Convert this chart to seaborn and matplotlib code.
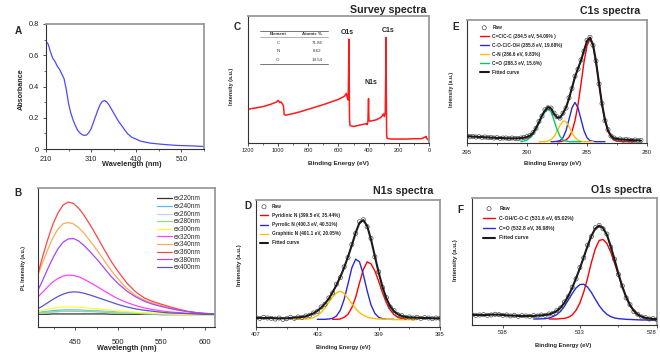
import numpy as np
import pandas as pd
import matplotlib
matplotlib.use("Agg")
import matplotlib.pyplot as plt
import seaborn as sns
from matplotlib.ticker import MultipleLocator, FixedLocator, NullLocator, FixedFormatter

# ---------------- data ----------------
# A: UV-vis absorbance
uv_wavelength = [210, 215, 220, 225, 230, 235, 240, 245, 250, 255, 260, 265, 270, 275, 280, 285, 290, 295, 300,
                 305, 310, 315, 320, 325, 330, 335, 340, 345, 350, 355, 360, 370, 380, 390, 400, 420, 440, 460,
                 480, 500, 520, 540, 560]
uv_absorbance = [0.69, 0.67, 0.62, 0.58, 0.56, 0.53, 0.51, 0.48, 0.45, 0.38, 0.29, 0.23, 0.185, 0.15, 0.12, 0.103,
                 0.092, 0.087, 0.09, 0.105, 0.13, 0.17, 0.21, 0.25, 0.285, 0.305, 0.31, 0.30, 0.28, 0.255, 0.23,
                 0.18, 0.14, 0.10, 0.075, 0.05, 0.038, 0.032, 0.027, 0.023, 0.021, 0.019, 0.016]
uv_yticks = [0, 0.2, 0.4, 0.6, 0.8]
uv_yticklabels = ["0", "0.2", "0.4", "0.6", "0.8"]

# B: PL spectra
pl_wavelength = [407, 412, 418, 424, 430, 436, 442, 448, 454, 460, 468, 476, 484, 492, 500, 510, 520, 530, 540,
                 550, 560, 570, 580, 590, 600, 612]
pl_names = ["ex220nm", "ex240nm", "ex260nm", "ex280nm", "ex300nm", "ex320nm", "ex340nm", "ex360nm", "ex380nm",
            "ex400nm"]
pl_ex220 = [1, 1, 1, 2, 2, 2, 2, 2, 2, 2, 2, 2, 2, 1, 1, 1, 1, 1, 1, 0, 0, 0, 0, 0, 0, 0]
pl_ex240 = [6, 8, 10, 12, 13, 14, 14, 14, 14, 13, 12, 11, 10, 9, 8, 6, 5, 4, 3, 2, 2, 1, 1, 0, 0, 0]
pl_ex260 = [4, 5, 7, 8, 9, 10, 11, 11, 11, 10, 10, 9, 8, 7, 6, 5, 4, 3, 2, 2, 1, 1, 1, 0, 0, 0]
pl_ex280 = [5, 6, 7, 8, 9, 10, 10, 10, 10, 9, 9, 8, 7, 6, 5, 4, 4, 3, 3, 2, 2, 1, 1, 0, 0, 0]
pl_ex300 = [10, 13, 16, 19, 21, 23, 23, 23, 22, 21, 19, 17, 15, 13, 11, 9, 7, 5, 4, 3, 2, 1, 0, -1, -1, -1]
pl_ex320 = [53, 66, 82, 97, 108, 115, 118, 117, 113, 106, 95, 83, 70, 58, 47, 36, 27, 20, 15, 11, 8, 6, 4, 3, 2, 1]
pl_ex340 = [118, 153, 192, 228, 255, 271, 275, 271, 260, 244, 218, 190, 160, 131, 106, 78, 57, 43, 34, 27, 20, 14,
            9, 5, 3, 2]
pl_ex360 = [123, 170, 222, 268, 303, 327, 336, 332, 318, 298, 265, 230, 193, 158, 128, 94, 68, 50, 39, 31, 23, 16,
            10, 6, 3, 2]
pl_ex380 = [73, 100, 135, 168, 196, 216, 226, 227, 220, 207, 186, 163, 138, 113, 92, 70, 53, 40, 31, 24, 18, 13, 9,
            6, 4, 2]
pl_ex400 = [18, 25, 35, 45, 54, 61, 66, 68, 67, 64, 58, 51, 44, 37, 30, 23, 17, 13, 10, 7, 5, 4, 3, 2, 1, 1]
pl_colors = ["#333333", "#55bbff", "#ccccff", "#88dd88", "#ffff33", "#ff44ff", "#ffaa55", "#ff4444", "#aa44ff",
             "#5555cc"]

# C: survey spectrum
survey_be = [1200, 1150, 1100, 1050, 1010, 1000, 990, 980, 975, 970, 965, 960, 950, 900, 850, 800, 750, 700, 650,
             600, 570, 560, 548, 542, 536, 533, 531, 529, 527, 524, 520, 500, 460, 420, 412, 410, 405, 401, 398,
             390, 350, 320, 310, 302, 296, 290, 287, 285, 283, 281, 278, 250, 200, 150, 100, 50, 25, 20, 15, 5, 0]
survey_int = [100, 104, 108, 115, 122, 127, 120, 122, 118, 115, 110, 84, 82, 87, 93, 100, 107, 114, 122, 130, 137,
              140, 148, 135, 128, 210, 312, 190, 70, 52, 50, 48, 52, 56, 56, 54, 62, 132, 66, 64, 68, 75, 80, 86,
              78, 90, 200, 317, 150, 25, 12, 10, 10, 10, 11, 11, 16, 18, 12, 8, 2]
table_elements = ["C", "N", "O"]
table_atomic = ["71.86", "8.62", "19.54"]

# E: C1s
e_be = np.arange(295.0, 280.4, -0.25)
e_fit = [20, 20, 19, 19, 18, 18, 17, 17, 16, 16, 15, 15, 15, 14, 14, 14, 14, 14, 15, 16, 18, 22, 30, 45, 63, 83, 98,
         108, 104, 88, 77, 76, 89, 107, 134, 166, 199, 224, 248, 278, 307, 317, 296, 245, 180, 117, 69, 38, 22, 14,
         12, 11, 10, 10, 9, 9, 8, 8, 7]
e_raw = [21, 19, 20, 18, 19, 17, 18, 16, 17, 15, 16, 14, 15, 15, 13, 15, 14, 13, 15, 17, 19, 23, 31, 44, 65, 81,
         100, 106, 105, 90, 79, 75, 90, 105, 136, 164, 201, 222, 250, 276, 309, 318, 294, 247, 178, 119, 67, 40, 21,
         15, 11, 12, 9, 11, 9, 8, 9, 7, 8]
e_red_be = np.arange(287.5, 280.9, -0.25)
e_red = [4, 4, 6, 9, 18, 35, 67, 115, 178, 243, 293, 312, 293, 243, 178, 115, 67, 35, 18, 9, 6, 5, 4, 4, 4, 4, 4]
e_blue_be = np.arange(288.0, 283.4, -0.25)
e_blue = [4, 4, 5, 7, 16, 37, 71, 106, 122, 106, 71, 37, 16, 7, 5, 4, 4, 4, 4]
e_yellow_be = np.arange(289.0, 284.4, -0.25)
e_yellow = [4, 4, 4, 6, 10, 19, 35, 53, 66, 64, 50, 31, 16, 8.5, 5, 4, 4, 4, 4]
e_green_be = np.arange(290.5, 285.4, -0.25)
e_green = [4, 6, 9, 16, 26, 41, 59, 79, 94, 102, 94, 69, 41, 20, 9, 6, 4, 4, 4, 4, 4]
e_labels = ["Raw", "C=C/C-C (284.5 eV, 54.09% )", "C-O-C/C-OH (285.8 eV, 19.68%)", "C-N (286.6 eV, 9.83%)",
            "C=O (288.3 eV, 15.6%)", "Fitted curve"]

# D: N1s
d_be = np.arange(407.0, 394.9, -0.25)
d_fit = [7, 7, 7, 7, 7, 6, 6, 6, 6, 7, 8, 9, 10, 12, 16, 21, 28, 38, 50, 65, 84, 106, 130, 158, 190, 225, 262, 292,
         300, 282, 242, 192, 143, 100, 66, 42, 27, 18, 13, 10, 9, 8, 8, 7, 7, 7, 6, 6, 6]
d_raw = [8, 6, 9, 7, 6, 4, 7, 3, 5, 9, 6, 10, 9, 13, 15, 22, 27, 40, 48, 67, 82, 108, 128, 160, 188, 227, 260, 295,
         301, 280, 245, 190, 145, 98, 68, 40, 29, 17, 14, 9, 10, 7, 9, 6, 8, 7, 5, 7, 6]
d_red_be = np.arange(402.0, 396.4, -0.25)
d_red = [3, 3, 4, 9, 18, 38, 69, 112, 152, 175, 169, 148, 117, 83, 53, 31, 17, 9, 5, 4, 3, 3, 3]
d_blue_be = np.arange(403.0, 397.9, -0.25)
d_blue = [3, 3, 3, 4, 6, 13, 30, 63, 109, 157, 183, 175, 137, 88, 46, 21, 9, 5, 3, 3, 3]
d_yellow_be = np.arange(404.5, 396.4, -0.25)
d_yellow = [3, 3, 3, 4, 5, 8, 14, 24, 37, 54, 70, 82, 87, 80, 66, 50, 35, 23, 15, 10, 7, 5, 4, 4, 3, 3, 2, 2, 2, 2,
            2, 2, 2]
d_labels = ["Raw", "Pyridinic N (399.5 eV, 35.44%)", "Pyrrolic N (400.3 eV, 40.51%)",
            "Graphitic N (401.1 eV, 20.05%)", "Fitted curve"]

# F: O1s
f_be = np.arange(540.0, 527.9, -0.25)
f_fit = [15, 15, 15, 15, 15, 16, 16, 16, 15, 14, 13, 13, 12, 12, 12, 12, 12, 13, 14, 15, 17, 21, 27, 37, 52, 72, 96,
         125, 155, 188, 222, 252, 274, 282, 275, 255, 220, 180, 138, 100, 68, 44, 27, 16, 10, 6, 4, 3, 2]
f_raw = [16, 14, 15, 16, 14, 15, 17, 16, 14, 15, 12, 14, 11, 13, 12, 11, 13, 12, 15, 14, 18, 20, 28, 36, 54, 70, 98,
         123, 157, 186, 224, 250, 276, 283, 273, 257, 218, 182, 136, 102, 66, 46, 25, 17, 9, 7, 3, 4, 1]
f_red_be = np.arange(535.0, 527.9, -0.25)
f_red = [3, 3, 3, 4, 5, 8, 15, 29, 51, 84, 126, 173, 213, 238, 241, 229, 203, 170, 134, 99, 70, 46, 29, 18, 11, 7,
         5, 4, 3]
f_blue_be = np.arange(536.0, 527.9, -0.25)
f_blue = [3, 3, 3.5, 4, 6, 10, 16, 26, 41, 60, 79, 96, 106, 107, 98, 82, 62, 43, 28, 17, 10, 6, 4, 3, 2, 1.5, 1,
          0.5, 0, 0, -1, -1, -1]
f_labels = ["Raw", "C-OH/C-O-C (531.6 eV, 65.02%)", "C=O (532.8 eV, 36.98%)", "Fitted curve"]

# ---------------- figure ----------------
sns.set_style("ticks")
plt.rcParams['font.family'] = ['Liberation Sans', 'DejaVu Sans']
W, H = 660, 352
fig = plt.figure(figsize=(W / 100, H / 100), dpi=100)


def axes_px(l, t, r, b):
    return fig.add_axes([l / W, 1 - b / H, (r - l) / W, (b - t) / H])


def ftext(x, y, s, size, weight='normal', rotation=0, ha='center', va='center', **kw):
    fig.text(x / W, 1 - y / H, s, size=size, weight=weight, rotation=rotation, ha=ha, va=va, **kw)


def style(ax, fs, pad, length=2.5):
    for s in ['left', 'bottom']:
        ax.spines[s].set_color('#333333')
        ax.spines[s].set_linewidth(0.8)
    for s in ['top', 'right']:
        ax.spines[s].set_color('#9a9a9a')
        ax.spines[s].set_linewidth(1.3)
    ax.tick_params(which='major', length=length, width=0.6, labelsize=fs, pad=pad, color='#333333',
                   labelcolor='#222222')
    ax.tick_params(which='minor', length=length * 0.6, width=0.5, color='#333333')
    ax.set_xlabel('')
    ax.set_ylabel('')


def no_y(ax):
    ax.yaxis.set_major_locator(NullLocator())
    ax.yaxis.set_minor_locator(NullLocator())


# ---- A ----
axA = axes_px(46, 24, 204, 149)
sns.lineplot(x=uv_wavelength, y=uv_absorbance, ax=axA, color='#4a4aff', linewidth=0.9, errorbar=None)
axA.set_xlim(210, 560)
axA.set_ylim(0, 0.8)
axA.xaxis.set_major_locator(FixedLocator([210, 310, 410, 510]))
axA.xaxis.set_minor_locator(FixedLocator([260, 360, 460, 560]))
axA.yaxis.set_major_locator(FixedLocator(uv_yticks))
axA.yaxis.set_major_formatter(FixedFormatter(uv_yticklabels))
axA.yaxis.set_minor_locator(FixedLocator([0.1, 0.3, 0.5, 0.7]))
style(axA, 5.3, 2.5)
ftext(21, 89, "Absorbance", 5.2, 'bold', rotation=90)
ftext(132, 165, "Wavelength (nm)", 5.3, 'bold')
ftext(18, 31, "A", 7.2, 'bold')

# ---- B ----
axB = axes_px(38, 188, 215, 327)
pl_df = pd.concat([pd.DataFrame({"wl": pl_wavelength, "val": vals, "ex": name})
                   for name, vals in zip(pl_names, [pl_ex220, pl_ex240, pl_ex260, pl_ex280, pl_ex300, pl_ex320,
                                                     pl_ex340, pl_ex360, pl_ex380, pl_ex400])])
sns.lineplot(data=pl_df, x="wl", y="val", hue="ex", hue_order=pl_names, palette=pl_colors, ax=axB,
             linewidth=0.9, errorbar=None)
axB.set_xlim(407, 612)
axB.set_ylim(-37, 378)
axB.xaxis.set_major_locator(FixedLocator([450, 500, 550, 600]))
axB.xaxis.set_minor_locator(FixedLocator([425, 475, 525, 575]))
no_y(axB)
style(axB, 5.5, 6)
hB, lB = axB.get_legend_handles_labels()
axB.legend(hB, lB, loc='upper left', bbox_to_anchor=(157 / W, 1 - 195.5 / H), bbox_transform=fig.transFigure,
           frameon=False, prop={'size': 4.7}, handlelength=2.3, handletextpad=0.2, labelspacing=0.1,
           borderpad=0, borderaxespad=0)
ftext(24, 268, "PL Intensity (a.u.)", 3.8, 'bold', rotation=90)
ftext(127, 348, "Wavelength (nm)", 5.3, 'bold')
ftext(18, 193, "B", 7.2, 'bold')

# ---- C ----
axC = axes_px(248, 16, 429, 143)
sns.lineplot(x=survey_be, y=survey_int, ax=axC, color='#ff1a1a', linewidth=1.1, errorbar=None)
axC.set_xlim(1200, 0)
axC.set_ylim(-2, 382)
axC.xaxis.set_major_locator(MultipleLocator(200))
axC.xaxis.set_minor_locator(MultipleLocator(100))
no_y(axC)
style(axC, 4.1, 1.5, 2)
ftext(232, 86, "Intensity (a.u.)", 4.0, 'bold', rotation=90)
ftext(339, 163, "Binding Energy (eV)", 4.6, 'bold')
ftext(237, 27, "C", 7.2, 'bold')
ftext(388, 10, "Survey spectra", 7.7, 'bold')
ftext(347, 32, "O1s", 5.0, 'bold')
ftext(371, 82, "N1s", 5.0, 'bold')
ftext(388, 31, "C1s", 5.0, 'bold')
# composition table
for yy, lw in [(30.7, 0.7), (37.3, 0.4), (64, 0.7)]:
    fig.add_artist(plt.Line2D([260 / W, 328 / W], [1 - yy / H, 1 - yy / H], color='#777777', linewidth=lw))
ftext(278, 34, "Element", 3.2, 'bold', color='#333333')
ftext(312, 34, "Atomic %", 3.2, 'bold', color='#333333')
for i, (el, at) in enumerate(zip(table_elements, table_atomic)):
    ftext(278, 42.7 + 8.6 * i, el, 3.2, color='#333333')
    ftext(317, 42.7 + 8.6 * i, at, 3.2, color='#333333')


# ---- XPS helper ----
def xps(ax, be, raw, fit, comps, labels, legend_xy, fs_leg, ls, hl):
    for cbe, cval, col in comps:
        sns.lineplot(x=cbe, y=cval, ax=ax, color=col, linewidth=1.0, errorbar=None, label='_c' + col)
    sns.scatterplot(x=be, y=raw, ax=ax, marker='o', s=9, facecolor='none', edgecolor='#505050', linewidth=0.5,
                    zorder=3, label='_raw')
    pts = ax.collections[-1]
    pts.set_facecolor('none')
    sns.lineplot(x=be, y=fit, ax=ax, color='#1a1a1a', linewidth=1.5, errorbar=None, zorder=4, label='_fit')
    handles = [pts] + [ax.lines[i] for i in range(len(comps))] + [ax.lines[len(comps)]]
    ax.legend(handles, labels, loc='upper left', bbox_to_anchor=(legend_xy[0] / W, 1 - legend_xy[1] / H),
              bbox_transform=fig.transFigure, frameon=False, prop={'size': fs_leg, 'weight': 'bold'},
              handlelength=hl, handletextpad=0.8, labelspacing=ls, borderpad=0, borderaxespad=0,
              scatterpoints=1)
    no_y(ax)


RED, BLUE, YEL, GRN = '#ff0000', '#2a2ad8', '#ffbf00', '#00c870'

# ---- E ----
axE = axes_px(467, 20, 647, 143)
xps(axE, e_be, e_raw, e_fit, [(e_red_be, e_red, RED), (e_blue_be, e_blue, BLUE), (e_yellow_be, e_yellow, YEL),
                              (e_green_be, e_green, GRN)], e_labels, (480, 25), 3.4, 0.85, 1.8)
axE.set_xlim(295, 280)
axE.set_ylim(0, 370)
axE.xaxis.set_major_locator(MultipleLocator(5))
axE.xaxis.set_minor_locator(MultipleLocator(2.5))
style(axE, 4.3, 3, 2)
ftext(451, 89, "Intensity (a.u.)", 3.7, 'bold', rotation=90)
ftext(553, 163, "Binding Energy (eV)", 4.3, 'bold')
ftext(456, 27, "E", 7.2, 'bold')
ftext(610, 11, "C1s spectra", 7.7, 'bold')

# ---- D ----
axD = axes_px(256, 200, 440, 327)
xps(axD, d_be, d_raw, d_fit, [(d_red_be, d_red, RED), (d_blue_be, d_blue, BLUE), (d_yellow_be, d_yellow, YEL)],
    d_labels, (260, 204), 3.4, 0.87, 1.7)
axD.set_xlim(407, 395)
axD.set_ylim(-20, 360)
axD.xaxis.set_major_locator(FixedLocator([407, 403, 399, 395]))
axD.xaxis.set_minor_locator(FixedLocator([405, 401, 397]))
style(axD, 4.2, 1.5, 2)
ftext(239, 265, "Intensity (a.u.)", 4.4, 'bold', rotation=90)
ftext(343, 347, "Binding Energy (eV)", 4.1, 'bold')
ftext(248, 206, "D", 7.2, 'bold')
ftext(403, 191, "N1s spectra", 7.7, 'bold')

# ---- F ----
axF = axes_px(472, 198, 657, 325)
xps(axF, f_be, f_raw, f_fit, [(f_red_be, f_red, RED), (f_blue_be, f_blue, BLUE)], f_labels, (483, 206), 3.7,
    0.93, 2.35)
axF.set_xlim(540, 528)
axF.set_ylim(-15, 365)
axF.xaxis.set_major_locator(FixedLocator([538, 533, 528]))
axF.xaxis.set_minor_locator(FixedLocator([535.5, 530.5]))
style(axF, 4.2, 1.5, 2)
axF.get_xticklabels()[-1].set_horizontalalignment('right')
ftext(455, 260, "Intensity (a.u.)", 4.4, 'bold', rotation=90)
ftext(563, 346, "Binding Energy (eV)", 4.2, 'bold')
ftext(460, 210, "F", 7.2, 'bold')
ftext(621, 190, "O1s spectra", 7.7, 'bold')

fig.savefig("out.png", dpi=100)
